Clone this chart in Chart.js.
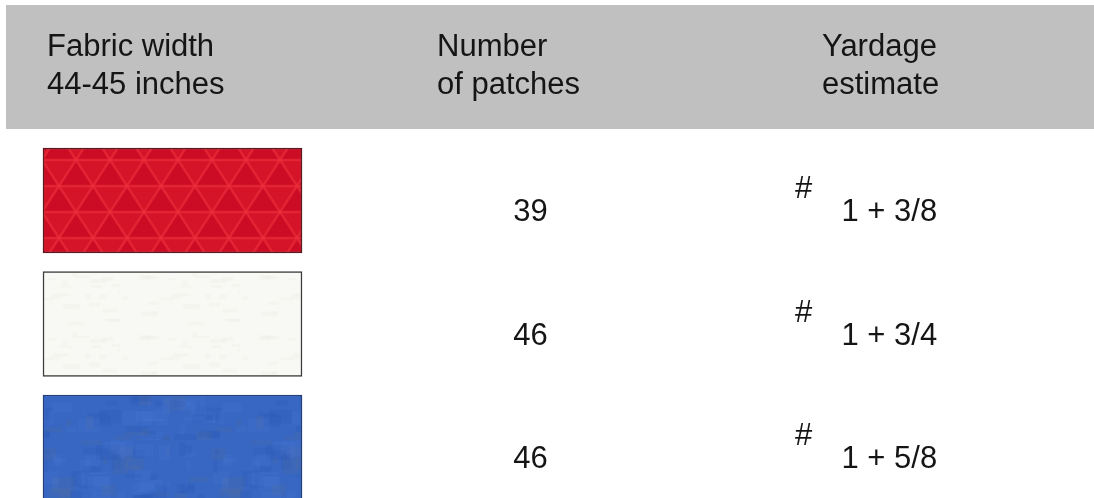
<!DOCTYPE html>
<html>
<head>
<meta charset="utf-8">
<script src="https://cdn.jsdelivr.net/npm/chart.js@4.4.1/dist/chart.umd.min.js"></script>
<style>
html,body{margin:0;padding:0;background:#ffffff;overflow:hidden}
canvas{display:block}
</style>
</head>
<body>
<canvas id="c" width="1094" height="498"></canvas>
<script>
// ---- data ----
const fabrics = ['Red', 'White', 'Blue'];
const patchCounts = [39, 46, 46];
const yardageMarks = ['#', '#', '#'];
const yardageLabels = ['1 + 3/8', '1 + 3/4', '1 + 5/8'];
const headerFabric = ['Fabric width', '44-45 inches'];
const headerPatches = ['Number', 'of patches'];
const headerYardage = ['Yardage', 'estimate'];

// ---- layout ----
const W = 1094, H = 498;
const ROW0 = 200.5, PITCH = 123.5;
const yMin = -ROW0 / PITCH, yMax = yMin + H / PITCH;
const SWATCH_X0 = 43, SWATCH_X1 = 302, SWATCH_H = 105;
const FONT = '31px "Liberation Sans", Arial, Helvetica, sans-serif';
const TEXT = '#151515';

function hash(i) { const v = Math.sin(i * 12.9898 + 78.233) * 43758.5453; return v - Math.floor(v); }

function redPattern(ctx) {
  const s = 34, h = 26;
  const c = document.createElement('canvas'); c.width = s; c.height = 2 * h;
  const g = c.getContext('2d');
  g.fillStyle = '#cc0c25'; g.fillRect(0, 0, s, 2 * h);
  g.fillStyle = 'rgba(228,36,50,0.35)';
  for (let r = 0; r < 2; r++) {
    const y = r * h, off = r * s / 2;
    for (let j = -1; j <= 2; j++) {
      const x = j * s + off;
      g.beginPath(); g.moveTo(x, y); g.lineTo(x + s, y); g.lineTo(x + s / 2, y + h); g.closePath(); g.fill();
    }
  }
  g.strokeStyle = 'rgba(236,50,62,0.6)'; g.lineWidth = 2.5;
  for (let r = -1; r <= 2; r++) {
    const y = r * h;
    g.beginPath(); g.moveTo(-s, y); g.lineTo(2 * s, y); g.stroke();
    const off = (((r % 2) + 2) % 2) * s / 2;
    for (let j = -2; j <= 2; j++) {
      const x = j * s + off;
      g.beginPath(); g.moveTo(x, y); g.lineTo(x + s / 2, y + h);
      g.moveTo(x, y); g.lineTo(x - s / 2, y + h); g.stroke();
    }
  }
  const p = ctx.createPattern(c, 'repeat');
  if (p.setTransform) p.setTransform(new DOMMatrix().translate(8, 160));
  return p;
}
function whitePattern(ctx) {
  const c = document.createElement('canvas'); c.width = 120; c.height = 60;
  const g = c.getContext('2d');
  g.fillStyle = '#f8f8f4'; g.fillRect(0, 0, 120, 60);
  for (let i = 0; i < 30; i++) {
    g.fillStyle = 'rgba(215,215,205,0.08)';
    g.fillRect(hash(i) * 120, hash(i + 100) * 60, 4 + hash(i + 200) * 14, 2 + hash(i + 300) * 3);
  }
  return ctx.createPattern(c, 'repeat');
}
function bluePattern(ctx) {
  const c = document.createElement('canvas'); c.width = 170; c.height = 110;
  const g = c.getContext('2d');
  g.fillStyle = '#3767c3'; g.fillRect(0, 0, 170, 110);
  for (let i = 0; i < 120; i++) {
    const t = hash(i + 500);
    g.fillStyle = t < 0.4 ? 'rgba(40,85,180,0.18)' : (t < 0.8 ? 'rgba(80,125,215,0.16)' : 'rgba(120,115,110,0.10)');
    g.fillRect(hash(i + 600) * 170, hash(i + 700) * 110, 4 + hash(i + 800) * 20, 3 + hash(i + 900) * 14);
  }
  return ctx.createPattern(c, 'repeat');
}

const canvas = document.getElementById('c');
const ctx0 = canvas.getContext('2d');
const swatchFills = [redPattern(ctx0), whitePattern(ctx0), bluePattern(ctx0)];
const swatchBorders = ['#5a1a1f', '#3c3c3c', '#24407a'];

const tablePlugin = {
  id: 'tableText',
  beforeDatasetsDraw(chart) {
    const ctx = chart.ctx;
    ctx.save();
    ctx.fillStyle = '#c0c0c0';
    ctx.fillRect(6, 5, W - 6, 124);
    ctx.restore();
  },
  afterDatasetsDraw(chart) {
    const ctx = chart.ctx, ys = chart.scales.y;
    ctx.save();
    ctx.font = FONT; ctx.fillStyle = TEXT; ctx.textBaseline = 'alphabetic';
    ctx.textAlign = 'left';
    const baselines = [56, 94];
    [[headerFabric, 47], [headerPatches, 437], [headerYardage, 822]].forEach(([lines, x]) => {
      lines.forEach((t, k) => ctx.fillText(t, x, baselines[k]));
    });
    fabrics.forEach((f, i) => {
      const cy = ys.getPixelForValue(i);
      ctx.textAlign = 'center';
      ctx.fillText(String(patchCounts[i]), 530.5, cy + 20.5);
      ctx.textAlign = 'left';
      ctx.fillText(yardageMarks[i], 795, cy - 2.5);
      ctx.fillText(yardageLabels[i], 841.5, cy + 20.5);
    });
    ctx.restore();
  }
};

new Chart(canvas, {
  type: 'bar',
  data: {
    labels: fabrics,
    datasets: [{
      data: fabrics.map((f, i) => ({ x: [SWATCH_X0, SWATCH_X1], y: i })),
      backgroundColor: swatchFills,
      borderColor: swatchBorders,
      borderWidth: 1.5,
      borderSkipped: false,
      barThickness: SWATCH_H
    }]
  },
  options: {
    indexAxis: 'y',
    responsive: false,
    animation: false,
    events: [],
    devicePixelRatio: 1,
    layout: { padding: 0, autoPadding: false },
    plugins: { legend: { display: false }, tooltip: { enabled: false } },
    scales: {
      x: { type: 'linear', min: 0, max: W, display: false, offset: false, grid: { offset: false } },
      y: { type: 'linear', min: yMin, max: yMax, reverse: true, display: false, offset: false, grid: { offset: false } }
    }
  },
  plugins: [tablePlugin]
});
</script>
</body>
</html>
